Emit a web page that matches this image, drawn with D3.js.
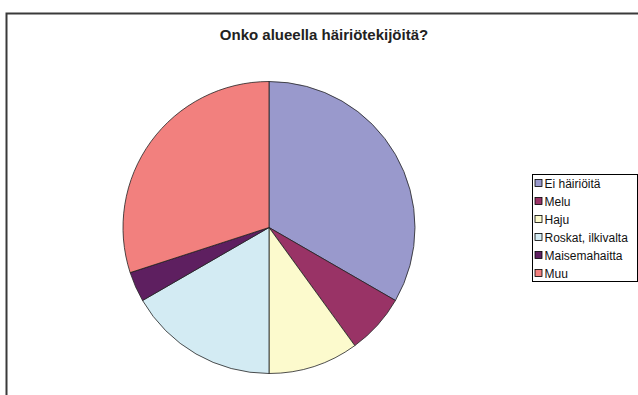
<!DOCTYPE html>
<html>
<head>
<meta charset="utf-8">
<script src="https://cdnjs.cloudflare.com/ajax/libs/d3/7.8.5/d3.min.js"></script>
<style>
  body { margin: 0; background: #fff; }
  text { font-family: "Liberation Sans", Arial, sans-serif; }
</style>
</head>
<body>
<div id="chart"></div>
<script>
var width = 638,
    height = 395;

// data (answers counted per category)
var title = "Onko alueella häiriötekijöitä?";
var categories = ["Ei häiriöitä", "Melu", "Haju", "Roskat, ilkivalta", "Maisemahaitta", "Muu"];
var counts = [10, 2, 3, 5, 1, 9];
var colors = ["#9999cc", "#993366", "#fcfacd", "#d3ebf3", "#5e1f60", "#f2807e"];

var svg = d3.select("#chart").append("svg")
    .attr("width", width)
    .attr("height", height);

// chart area frame (runs off the right and bottom edge)
svg.append("rect")
    .attr("x", 6.5)
    .attr("y", 13.5)
    .attr("width", 700)
    .attr("height", 500)
    .attr("fill", "#fff")
    .attr("stroke", "#3a3a3a")
    .attr("stroke-width", 2);

svg.append("text")
    .attr("x", 324)
    .attr("y", 40)
    .attr("text-anchor", "middle")
    .style("font-size", "15px")
    .style("font-weight", "bold")
    .attr("fill", "#222")
    .text(title);

var cx = 269, cy = 227.5, r = 146;

var pie = d3.pie().sort(null).value(function(d) { return d; });
var arc = d3.arc().innerRadius(0).outerRadius(r);

var g = svg.append("g").attr("transform", "translate(" + cx + "," + cy + ")");

g.selectAll("path")
    .data(pie(counts))
    .enter().append("path")
    .attr("d", arc)
    .attr("fill", function(d, i) { return colors[i]; })
    .attr("stroke", "#222")
    .attr("stroke-width", 0.8);

// legend
var lx = 532.5, ly = 174.5, rowH = 18;
var legend = svg.append("g");

legend.append("rect")
    .attr("x", lx)
    .attr("y", ly)
    .attr("width", 105)
    .attr("height", 107)
    .attr("fill", "#fff")
    .attr("stroke", "#000")
    .attr("stroke-width", 1);

var items = legend.selectAll("g.item")
    .data(categories)
    .enter().append("g")
    .attr("class", "item")
    .attr("transform", function(d, i) {
        return "translate(" + lx + "," + (ly + 8.5 + i * rowH) + ")";
    });

items.append("rect")
    .attr("x", 2.5)
    .attr("y", -3.5)
    .attr("width", 7)
    .attr("height", 7)
    .attr("fill", function(d, i) { return colors[i]; })
    .attr("stroke", "#000")
    .attr("stroke-width", 0.8);

items.append("text")
    .attr("x", 12)
    .attr("y", 4.5)
    .style("font-size", "12px")
    .attr("fill", "#111")
    .text(function(d) { return d; });
</script>
</body>
</html>
